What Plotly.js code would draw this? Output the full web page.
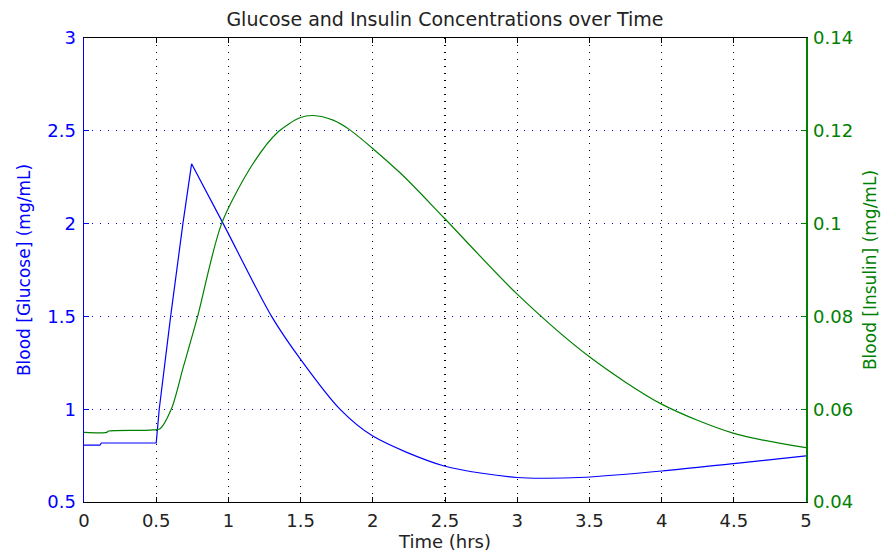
<!DOCTYPE html>
<html>
<head>
<meta charset="utf-8">
<script src="https://cdn.plot.ly/plotly-3.0.1.min.js"></script>
<style>html,body{margin:0;padding:0;background:#fff;}#chart{width:881px;height:554px;}</style>
</head>
<body>
<div id="chart"></div>
<script>
// Glucose (left axis, mg/mL)
var glucoseTime = [0, 0.11, 0.12, 0.5, 0.505, 0.521, 0.600, 0.685, 0.745, 0.964, 1.299, 1.5, 1.772, 2.0, 2.494, 3.0, 3.2, 3.43, 4.0, 4.5, 5.0];
var glucoseValue = [0.806, 0.806, 0.818, 0.818, 0.86, 1.0, 1.5, 2.0, 2.322, 2.0, 1.5, 1.268, 1.0, 0.855, 0.694, 0.632, 0.628, 0.632, 0.667, 0.707, 0.748];

// Insulin (right axis, mg/mL)
var insulinTime = [0, 0.157, 0.17, 0.457, 0.526, 0.607, 0.687, 0.787, 0.953, 1.172, 1.345, 1.495, 1.587, 1.725, 1.841, 2.187, 2.494, 3.0, 3.5, 4.0, 4.5, 5.0];
var insulinValue = [0.0550, 0.0550, 0.0553, 0.0555, 0.0558, 0.0602, 0.0690, 0.0800, 0.1000, 0.1130, 0.1198, 0.1228, 0.1233, 0.1223, 0.1202, 0.1110, 0.1012, 0.0848, 0.0713, 0.0611, 0.0548, 0.0517];

var xTicks = [0, 0.5, 1, 1.5, 2, 2.5, 3, 3.5, 4, 4.5, 5];
var xTickText = ["0", "0.5", "1", "1.5", "2", "2.5", "3", "3.5", "4", "4.5", "5"];
var yLeftTicks = [0.5, 1, 1.5, 2, 2.5, 3];
var yLeftTickText = ["0.5", "1", "1.5", "2", "2.5", "3"];
var yRightTicks = [0.04, 0.06, 0.08, 0.1, 0.12, 0.14];
var yRightTickText = ["0.04", "0.06", "0.08", "0.1", "0.12", "0.14"];

var BLUE = "#0000ff";
var GREEN = "#008000";
var FONT = "DejaVu Sans, sans-serif";

// split glucose at its peak: sharp linear rise, smooth decay
var peakIdx = glucoseValue.indexOf(Math.max.apply(null, glucoseValue));

var traces = [
  {x: glucoseTime.slice(0, peakIdx + 1), y: glucoseValue.slice(0, peakIdx + 1), type: "scatter", mode: "lines",
   name: "Glucose", line: {color: BLUE, width: 1.2, shape: "linear"}, yaxis: "y"},
  {x: glucoseTime.slice(peakIdx), y: glucoseValue.slice(peakIdx), type: "scatter", mode: "lines",
   name: "Glucose", line: {color: BLUE, width: 1.2, shape: "spline", smoothing: 0.8}, yaxis: "y"},
  {x: insulinTime, y: insulinValue, type: "scatter", mode: "lines", name: "Insulin",
   line: {color: GREEN, width: 1.2, shape: "spline", smoothing: 0.8}, yaxis: "y2"}
];

var layout = {
  width: 881, height: 554,
  margin: {l: 84, r: 75, t: 38, b: 52, pad: 0},
  paper_bgcolor: "#fff", plot_bgcolor: "#fff",
  showlegend: false,
  font: {family: FONT, size: 18, color: "#000"},
  title: {text: "Glucose and Insulin Concentrations over Time", font: {family: FONT, size: 19, color: "#222"},
          x: 0.505, xanchor: "center", y: 1 - 19 / 554, yanchor: "middle", yref: "container"},
  xaxis: {
    range: [0, 5], tickmode: "array", tickvals: xTicks, ticktext: xTickText,
    showgrid: true, gridcolor: "#000", griddash: "1px,6px", gridwidth: 1.2,
    zeroline: false, showline: true, linecolor: "#000", linewidth: 1, mirror: "ticks",
    ticks: "inside", ticklen: 5, tickcolor: "#000", tickwidth: 1,
    tickfont: {family: FONT, size: 18, color: "#222"}, ticklabelstandoff: 2,
    title: {text: "Time (hrs)", font: {family: FONT, size: 18, color: "#222"}, standoff: 2}
  },
  yaxis: {
    range: [0.5, 3], tickmode: "array", tickvals: yLeftTicks, ticktext: yLeftTickText,
    showgrid: true, gridcolor: BLUE, griddash: "1px,7px", gridwidth: 1,
    zeroline: false, showline: true, linecolor: BLUE, linewidth: 1.5, mirror: false,
    ticks: "inside", ticklen: 5, tickcolor: BLUE, tickwidth: 1,
    tickfont: {family: FONT, size: 18, color: BLUE}, ticklabelstandoff: 3,
    title: {text: "Blood [Glucose] (mg/mL)", font: {family: FONT, size: 17, color: BLUE}, standoff: 12}
  },
  yaxis2: {
    range: [0.04, 0.14], overlaying: "y", side: "right", tickmode: "array",
    tickvals: yRightTicks, ticktext: yRightTickText,
    showgrid: false, zeroline: false, showline: true, linecolor: GREEN, linewidth: 1.5,
    ticks: "inside", ticklen: 5, tickcolor: GREEN, tickwidth: 1,
    tickfont: {family: FONT, size: 18, color: GREEN}, ticklabelstandoff: 2,
    title: {text: "Blood [Insulin] (mg/mL)", font: {family: FONT, size: 17, color: GREEN}, standoff: 12}
  }
};

Plotly.newPlot("chart", traces, layout, {staticPlot: true, displayModeBar: false});
</script>
</body>
</html>
